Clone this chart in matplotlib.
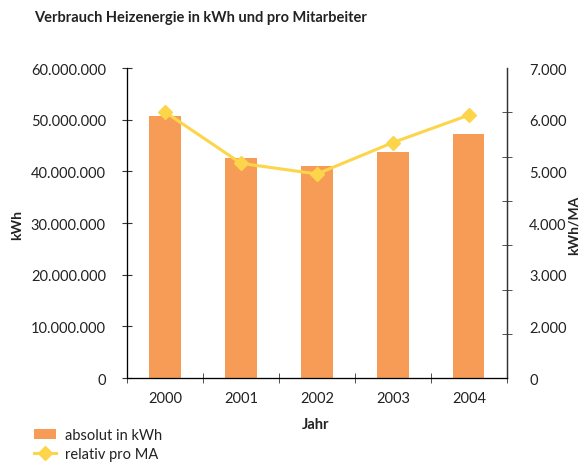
import numpy as np
import matplotlib.pyplot as plt
from matplotlib.ticker import FixedLocator, FuncFormatter

plt.rcParams['font.family'] = ['Lato', 'DejaVu Sans']

# data
years = ["2000", "2001", "2002", "2003", "2004"]
absolut_kwh = [50700000, 42700000, 41100000, 43800000, 47300000]
relativ_ma = [6010, 4850, 4610, 5320, 5940]

bar_color = "#F79C56"
line_color = "#FDD54B"
axis_color = "#333333"
text_color = "#222222"

def de_fmt(v, pos=None):
    return f"{int(round(v)):,}".replace(",", ".")

fig = plt.figure(figsize=(5.84, 4.64), dpi=100)
ax = fig.add_axes([0.2175, 0.183, 0.6505, 0.668])
x = np.arange(len(years))

bars = ax.bar(x, absolut_kwh, width=0.41, color=bar_color, zorder=2,
              label="absolut in kWh")
ax.set_xlim(-0.5, len(years) - 0.5)
ax.set_ylim(0, 60000000)
ax.yaxis.set_major_locator(FixedLocator(np.arange(0, 60000001, 10000000)))
ax.yaxis.set_major_formatter(FuncFormatter(de_fmt))
ax.set_xticks(x)
ax.set_xticklabels(years)
ax.set_xticks(np.arange(-0.5, len(years)), minor=True)
ax.tick_params(axis="x", which="major", length=0, pad=9.5, labelsize=10.5,
               labelcolor=text_color)
ax.tick_params(axis="x", which="minor", length=6.5, direction="inout",
               color=axis_color)
ax.tick_params(axis="y", length=6.5, direction="inout", color=axis_color,
               labelsize=10.5, labelcolor=text_color, pad=12)
ax.spines["top"].set_visible(False)
for s in ("left", "bottom", "right"):
    ax.spines[s].set_color(axis_color)
    ax.spines[s].set_linewidth(0.9)

ax2 = ax.twinx()
line, = ax2.plot(x, relativ_ma, color=line_color, lw=2.2, marker="D",
                 markersize=7, zorder=3, label="relativ pro MA")
ax2.set_ylim(0, 7000)
# right axis: tick marks every 1.000, labels drawn where the original put them
ax2.yaxis.set_minor_locator(FixedLocator(np.arange(0, 7001, 1000)))
right_labels = ["0", "2.000", "3.000", "4.000", "5.000", "6.000", "7.000"]
ax2.set_yticks(np.linspace(0, 7000, len(right_labels)))
ax2.set_yticklabels(right_labels)
ax2.tick_params(axis="y", which="major", length=0, pad=16, labelsize=10.5,
                labelcolor=text_color)
ax2.tick_params(axis="y", which="minor", length=6.5, direction="inout",
                color=axis_color)
ax2.spines["top"].set_visible(False)
ax2.spines["right"].set_color(axis_color)
ax2.spines["right"].set_linewidth(0.9)

fig.text(0.058, 0.962, "Verbrauch Heizenergie in kWh und pro Mitarbeiter",
         fontsize=10.5, fontweight="bold", color=text_color, va="center")
fig.text(0.03, 0.515, "kWh", rotation=90, fontsize=10, fontweight="bold",
         color=text_color, ha="center", va="center")
fig.text(0.972, 0.515, "kWh/MA", rotation=90, fontsize=10, fontweight="bold",
         color=text_color, ha="left", va="center")
fig.text(0.54, 0.085, "Jahr", fontsize=10.5, fontweight="bold",
         color=text_color, ha="center", va="center")

fig.legend(handles=[bars, line], loc="lower left",
           bbox_to_anchor=(0.036, -0.025), frameon=False, fontsize=10.5,
           handlelength=1.5, labelspacing=0.35, handletextpad=0.6,
           labelcolor=text_color)

fig.savefig("out.png", dpi=100)
